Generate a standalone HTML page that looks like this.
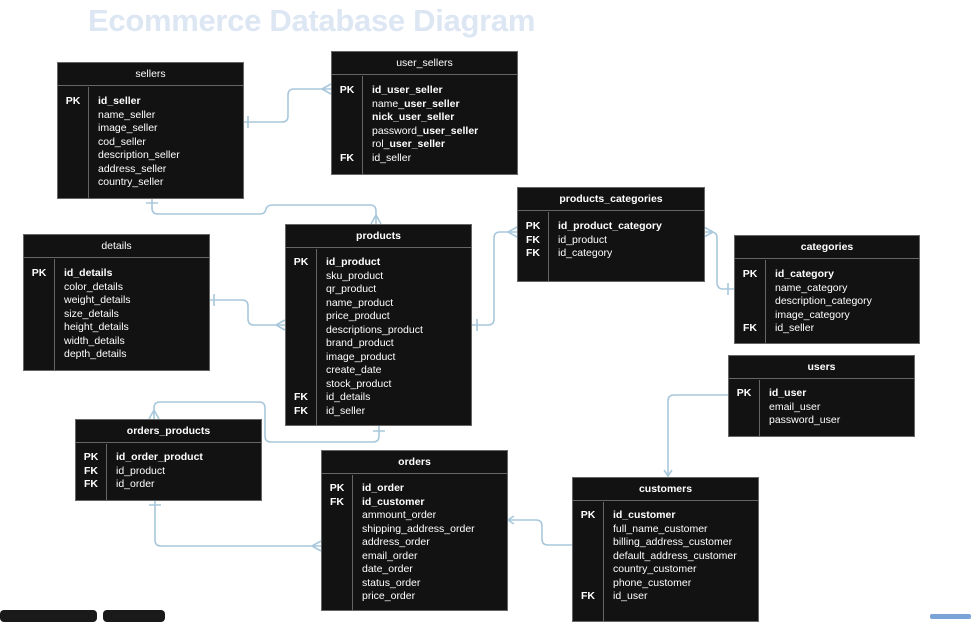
<!DOCTYPE html>
<html><head><meta charset="utf-8"><style>
body{margin:0;width:971px;height:617px;background:#fff;position:relative;overflow:hidden;font-family:"Liberation Sans",Arial,sans-serif;}
.title{position:absolute;left:88px;top:3px;font-size:31px;font-weight:bold;color:#dde6f3;letter-spacing:-0.3px;white-space:nowrap}
.t{position:absolute;background:#121212;border:1px solid #666;box-sizing:border-box;color:#fff;font-size:10.5px}
.h{height:23px;border-bottom:1px solid #666;text-align:center;line-height:23px;box-sizing:border-box}
.hb{font-weight:bold}
.k{position:absolute;left:0;top:24px;bottom:0;width:31px;border-right:1px solid #666;text-align:center;font-weight:bold;box-sizing:border-box}
.f{position:absolute;left:40px;top:24px;white-space:nowrap}
.k div,.f div{height:13.5px;line-height:13.5px}
.b{font-weight:bold}
svg{position:absolute;left:0;top:0}
</style></head><body>
<div class="title">Ecommerce Database Diagram</div>
<svg width="971" height="617" fill="none" stroke="#a9c8dc" stroke-width="1.6">
<path d="M243 122 H282 Q288 122 288 116 V95 Q288 89 294 89 H331"/><path d="M248 116 V128 M322 89 L331 84 M322 89 L331 94"/>
<path d="M152 198 V208 Q152 214 158 214 H260 Q265 214 266 209 Q267 205 273 205 H370 Q376 205 376 211 V224"/><path d="M146 203 H158 M376 215 L371 224 M376 215 L381 224"/>
<path d="M209 300 H242 Q248 300 248 306 V319 Q248 325 254 325 H285"/><path d="M214 294 V306 M276 325 L285 320 M276 325 L285 330"/>
<path d="M471 325 H488 Q494 325 494 319 V238 Q494 232 500 232 H517"/><path d="M477 319 V331 M508 232 L517 227 M508 232 L517 237"/>
<path d="M704 232 H711 Q717 232 717 238 V282 Q717 289 723 289 H734"/><path d="M713 232 L704 227 M713 232 L704 237 M728 283 V295"/>
<path d="M379 425 V436 Q379 442 373 442 H271 Q265 442 265 436 V408 Q265 402 259 402 H160 Q154 402 154 408 V419"/><path d="M373 431 H385 M154 410 L149 419 M154 410 L159 419"/>
<path d="M155 500 V540 Q155 546 161 546 H321"/><path d="M149 505 H161 M312 546 L321 541 M312 546 L321 551"/>
<path d="M572 545 H548 Q542 545 542 539 V526 Q542 520 536 520 H508"/><path d="M514 516 L508 520 L514 524"/>
<path d="M728 395 H674 Q668 395 668 401 V476"/><path d="M664 470 L668 476 L672 470"/>
</svg>

<div class="t" style="left:57px;top:62px;width:187px;height:137px"><div class="h">sellers</div>
<div class="k" style="padding-top:8px"><div>PK</div></div>
<div class="f" style="padding-top:8px"><div class="b">id_seller</div><div>name_seller</div><div>image_seller</div><div>cod_seller</div><div>description_seller</div><div>address_seller</div><div>country_seller</div></div></div>

<div class="t" style="left:331px;top:51px;width:187px;height:124px"><div class="h">user_sellers</div>
<div class="k" style="padding-top:8px"><div>PK</div><div></div><div></div><div></div><div></div><div>FK</div></div>
<div class="f" style="padding-top:8px"><div class="b">id_user_seller</div><div>name_<b>user_seller</b></div><div class="b">nick_user_seller</div><div>password_<b>user_seller</b></div><div>rol_<b>user_seller</b></div><div>id_seller</div></div></div>

<div class="t" style="left:517px;top:187px;width:188px;height:95px"><div class="h hb">products_categories</div>
<div class="k" style="padding-top:8px"><div>PK</div><div>FK</div><div>FK</div></div>
<div class="f" style="padding-top:8px"><div class="b">id_product_category</div><div>id_product</div><div>id_category</div></div></div>

<div class="t" style="left:734px;top:235px;width:186px;height:109px"><div class="h hb">categories</div>
<div class="k" style="padding-top:8px"><div>PK</div><div></div><div></div><div></div><div>FK</div></div>
<div class="f" style="padding-top:8px"><div class="b">id_category</div><div>name_category</div><div>description_category</div><div>image_category</div><div>id_seller</div></div></div>

<div class="t" style="left:23px;top:234px;width:187px;height:137px"><div class="h">details</div>
<div class="k" style="padding-top:8px"><div>PK</div></div>
<div class="f" style="padding-top:8px"><div class="b">id_details</div><div>color_details</div><div>weight_details</div><div>size_details</div><div>height_details</div><div>width_details</div><div>depth_details</div></div></div>

<div class="t" style="left:285px;top:224px;width:187px;height:202px"><div class="h hb">products</div>
<div class="k" style="padding-top:7px"><div>PK</div><div></div><div></div><div></div><div></div><div></div><div></div><div></div><div></div><div></div><div>FK</div><div>FK</div></div>
<div class="f" style="padding-top:7px"><div class="b">id_product</div><div>sku_product</div><div>qr_product</div><div>name_product</div><div>price_product</div><div>descriptions_product</div><div>brand_product</div><div>image_product</div><div>create_date</div><div>stock_product</div><div>id_details</div><div>id_seller</div></div></div>

<div class="t" style="left:728px;top:355px;width:187px;height:82px"><div class="h hb">users</div>
<div class="k" style="padding-top:7px"><div>PK</div></div>
<div class="f" style="padding-top:7px"><div class="b">id_user</div><div>email_user</div><div>password_user</div></div></div>

<div class="t" style="left:75px;top:419px;width:187px;height:82px"><div class="h hb">orders_products</div>
<div class="k" style="padding-top:7px"><div>PK</div><div>FK</div><div>FK</div></div>
<div class="f" style="padding-top:7px"><div class="b">id_order_product</div><div>id_product</div><div>id_order</div></div></div>

<div class="t" style="left:321px;top:450px;width:187px;height:161px"><div class="h hb">orders</div>
<div class="k" style="padding-top:7px"><div>PK</div><div>FK</div></div>
<div class="f" style="padding-top:7px"><div class="b">id_order</div><div class="b">id_customer</div><div>ammount_order</div><div>shipping_address_order</div><div>address_order</div><div>email_order</div><div>date_order</div><div>status_order</div><div>price_order</div></div></div>

<div class="t" style="left:572px;top:477px;width:187px;height:145px"><div class="h hb">customers</div>
<div class="k" style="padding-top:7px"><div>PK</div><div></div><div></div><div></div><div></div><div></div><div>FK</div></div>
<div class="f" style="padding-top:7px"><div class="b">id_customer</div><div>full_name_customer</div><div>billing_address_customer</div><div>default_address_customer</div><div>country_customer</div><div>phone_customer</div><div>id_user</div></div></div>

<div style="position:absolute;left:0;top:610px;width:97px;height:12px;background:#1a1a1a;border-radius:4px"></div>
<div style="position:absolute;left:103px;top:610px;width:62px;height:12px;background:#1a1a1a;border-radius:4px"></div>
<div style="position:absolute;left:930px;top:614px;width:41px;height:5px;background:#7aa3d8;border-radius:2px"></div>
</body></html>
